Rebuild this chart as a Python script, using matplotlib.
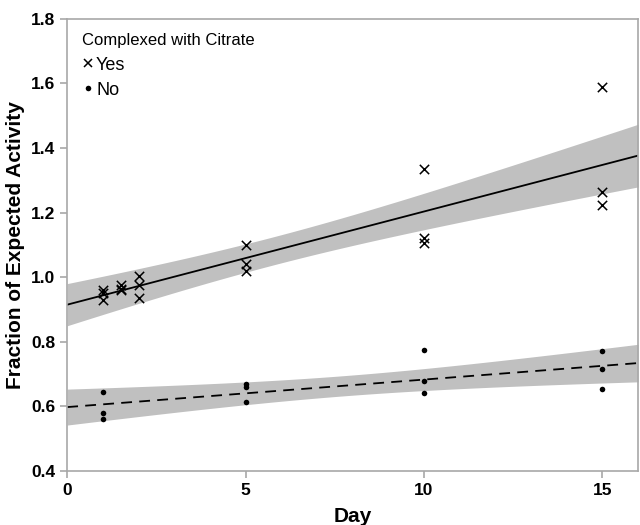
import numpy as np
import matplotlib.pyplot as plt
from matplotlib.lines import Line2D

plt.rcParams['font.family'] = ['Liberation Sans', 'DejaVu Sans']

# Complexed with citrate: Yes
yes_day = [1, 1, 1, 1.5, 1.5, 1.5, 2, 2, 2, 5, 5, 5, 10, 10, 10, 15, 15, 15]
yes_frac = [0.96, 0.95, 0.93, 0.975, 0.965, 0.96, 1.005, 0.975, 0.935,
            1.10, 1.04, 1.02, 1.335, 1.12, 1.105, 1.59, 1.265, 1.225]

# Complexed with citrate: No
no_day = [1, 1, 1, 5, 5, 5, 10, 10, 10, 15, 15, 15]
no_frac = [0.645, 0.58, 0.56, 0.67, 0.66, 0.615, 0.775, 0.68, 0.64,
           0.77, 0.715, 0.655]

x_ticks = [0, 5, 10, 15]
y_ticks = [0.4, 0.6, 0.8, 1.0, 1.2, 1.4, 1.6, 1.8]


def fit_band(x, y, t_crit, xs):
    # linear fit with 95% confidence band of the mean
    x = np.asarray(x, float)
    y = np.asarray(y, float)
    n = len(x)
    b, a = np.polyfit(x, y, 1)
    resid = y - (a + b * x)
    s = np.sqrt(np.sum(resid**2) / (n - 2))
    sxx = np.sum((x - x.mean())**2)
    se = s * np.sqrt(1.0 / n + (xs - x.mean())**2 / sxx)
    fit = a + b * xs
    return fit, fit - t_crit * se, fit + t_crit * se


xs = np.linspace(0, 16, 200)
yes_fit, yes_lo, yes_hi = fit_band(yes_day, yes_frac, 2.120, xs)
no_fit, no_lo, no_hi = fit_band(no_day, no_frac, 2.228, xs)

fig = plt.figure(figsize=(6.4, 5.25), dpi=100)
ax = fig.add_axes([0.105, 0.103, 0.892, 0.861])

band_color = '#c0c0c0'
ax.fill_between(xs, yes_lo, yes_hi, color=band_color, lw=0, zorder=1)
ax.fill_between(xs, no_lo, no_hi, color=band_color, lw=0, zorder=1)
ax.plot(xs, yes_fit, color='black', lw=1.3, zorder=2)
ax.plot(xs, no_fit, color='black', lw=1.3, ls=(0, (6, 4)), zorder=2)

ax.scatter(yes_day, yes_frac, marker='x', s=45, color='black', lw=1.1,
           zorder=3)
ax.scatter(no_day, no_frac, marker='o', s=16, color='black', lw=0,
           zorder=3)

ax.set_xlim(0, 16)
ax.set_ylim(0.4, 1.8)
ax.set_xticks(x_ticks)
ax.set_yticks(y_ticks)
ax.set_yticklabels([f'{v:.1f}' for v in y_ticks])

for sp in ax.spines.values():
    sp.set_color('#a8a8a8')
    sp.set_linewidth(1.2)
ax.tick_params(colors='#a8a8a8', labelcolor='black', length=5, width=1.2)
for lab in ax.get_xticklabels() + ax.get_yticklabels():
    lab.set_fontweight('bold')
    lab.set_fontsize(12.5)

ax.set_xlabel('Day', fontsize=15, fontweight='bold', labelpad=7)
ax.set_ylabel('Fraction of Expected Activity', fontsize=15, fontweight='bold',
              labelpad=4)

handles = [Line2D([], [], ls='none', marker='x', color='black', ms=6, mew=1.1),
           Line2D([], [], ls='none', marker='o', color='black', ms=4, mew=0)]
leg = ax.legend(handles, ['Yes', 'No'], title='Complexed with Citrate',
                loc='upper left', frameon=False, fontsize=13,
                title_fontsize=12, handletextpad=0.1, handlelength=0.7,
                borderaxespad=0.3, labelspacing=0.45, borderpad=0.5)
leg._legend_box.align = 'left'
leg._legend_box.sep = 6

fig.savefig('out.png', dpi=100)
